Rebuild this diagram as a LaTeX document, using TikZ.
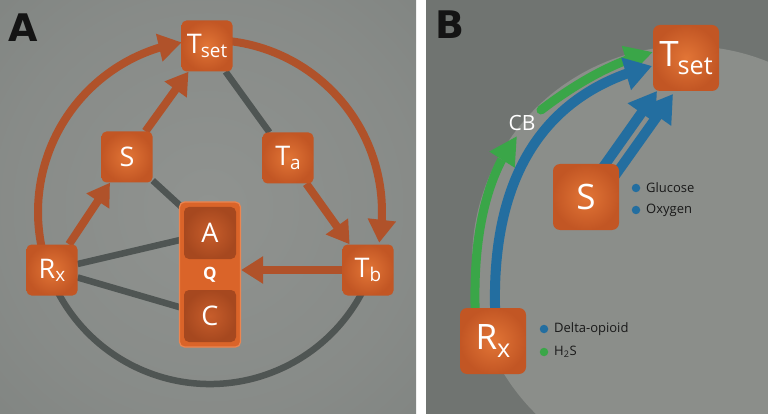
\documentclass[tikz,border=0pt]{standalone}
\usepackage{fontspec}
\setmainfont{Open Sans}
\newfontfamily\labfont{DejaVu Sans}
\usetikzlibrary{arrows.meta,bending}
\pgfdeclarelayer{bgl}
\pgfdeclarelayer{conn}
\pgfsetlayers{bgl,conn,main}
\definecolor{orA}{HTML}{B0522A}
\definecolor{lineG}{HTML}{4F5553}
\definecolor{boxC}{HTML}{C25624}
\definecolor{boxI}{HTML}{E27536}
\definecolor{inI}{HTML}{C75D2B}
\definecolor{inO}{HTML}{A6481F}
\definecolor{qF}{HTML}{DA6429}
\definecolor{qD}{HTML}{EC8550}
\definecolor{bluB}{HTML}{236EA0}
\definecolor{grnB}{HTML}{3AA648}
\definecolor{bgDark}{HTML}{6E7370}
\definecolor{bgLight}{HTML}{909390}
\definecolor{bgBd}{HTML}{707471}
\definecolor{bgBl}{HTML}{8B8E8A}
\colorlet{bgMid}{bgLight!75!bgDark}
\pgfdeclareradialshading{panA}{\pgfpoint{0bp}{0bp}}{color(0bp)=(bgLight); color(25bp)=(bgMid); color(72bp)=(bgDark)}
\newcommand\sbx[1]{\raisebox{-0.12em}{\scalebox{0.7}{#1}}}
\newcommand\sbxB[1]{\raisebox{-0.22em}{\scalebox{0.72}{#1}}}
\tikzset{
  boxA/.style={rounded corners=5pt, minimum size=51pt, inner sep=0pt, text=white,
    inner color=boxI, outer color=boxC, font=\fontsize{27}{27}\selectfont},
  boxB/.style={boxA, minimum size=66pt, rounded corners=7pt, font=\fontsize{35}{35}\selectfont},
  inbox/.style={rounded corners=5pt, minimum size=52pt, inner sep=0pt, text=white,
    inner color=inI, outer color=inO, font=\fontsize{27}{27}\selectfont},
  qbox/.style={rounded corners=5pt, minimum width=61pt, minimum height=145pt, inner sep=0pt,
    fill=qF, draw=qD, line width=1.2pt},
  oarr/.style={orA, line width=8pt, -{Triangle[length=22pt,width=26pt]}},
  oarc/.style={orA, line width=8pt, -{Triangle[length=23pt,width=27pt]}},
  gline/.style={lineG, line width=6.5pt},
  barr/.style={bluB, line width=10pt, -{Triangle[length=27pt,width=32pt]}},
  garr/.style={grnB, line width=9pt, -{Triangle[length=28pt,width=28pt]}},
  dotb/.style={circle, fill=bluB, minimum size=8.5pt, inner sep=0pt},
  dotg/.style={circle, fill=grnB, minimum size=8.5pt, inner sep=0pt},
  leg/.style={anchor=west, inner sep=0pt, text=black!90, font=\fontsize{13}{13}\selectfont},
  plabel/.style={inner sep=0pt, text=black!92, font=\labfont\bfseries\fontsize{38}{38}\selectfont}
}
\begin{document}
\begin{tikzpicture}[x=1pt,y=-1pt]
\useasboundingbox (0,0) rectangle (768,414);
\begin{pgfonlayer}{bgl}
  \fill[white] (0,0) rectangle (768,414);
  \shade[shading=panA] (0,0) rectangle (416,414);
  \begin{scope}
    \clip (426,0) rectangle (768,414);
    \fill[bgBd] (426,0) rectangle (768,414);
    \fill[bgBl] (687,261) circle[radius=215];
  \end{scope}
\end{pgfonlayer}

% ---------- Panel A ----------
\node[plabel] (labA) at (23,28) {A};
\coordinate (O) at (210,212);
\node[boxA] (Tset) at (207,46) {T\kern-0.03em\sbx{set}};
\node[boxA] (S) at (127,157) {S};
\node[boxA] (Ta) at (288,158) {T\sbx{a}};
\node[boxA] (Rx) at (52,270) {R\sbx{x}};
\node[boxA] (Tb) at (368,270) {T\sbx{b}};
\node[qbox] (Q) at (210,274.5) {};
\node[inbox] (A) at (210,233) {A};
\node[inbox] (C) at (210,316) {C};
\node[inner sep=0pt, text=white, font=\fontsize{17}{17}\selectfont\bfseries] (Qt) at (210,275) {Q};

\begin{pgfonlayer}{conn}
  \draw[gline] (Tset) -- (Ta);
  \draw[gline] (S) -- (A);
  \draw[gline] (Rx) -- (A);
  \draw[gline] (Rx) -- (C);
  \draw[gline] ([shift={(20:172)}]O) arc[start angle=20, end angle=160, radius=172];
  \draw[oarc] ([shift={(160:172)}]O) arc[start angle=160, end angle=260.5, radius=172];
  \draw[oarc] ([shift={(275:172)}]O) arc[start angle=275, end angle=370.3, radius=172];
  \draw[oarr] (Rx) -- (S);
  \draw[oarr] (S) -- (Tset);
  \draw[oarr] (Ta) -- (Tb);
  \draw[oarr] (Tb.west) -- (Q.east |- Tb.west);
\end{pgfonlayer}

% ---------- Panel B ----------
\node[plabel] (labB) at (450,25) {B};
\node[boxB] (Tset2) at (686,58) {T\kern-0.03em\sbxB{set}};
\node[boxB] (S2) at (586,197) {S};
\node[boxB] (Rx2) at (493,341) {R\sbxB{x}};
\node[inner sep=0pt, text=white, font=\fontsize{21}{21}\selectfont] (CB) at (522,123) {CB};

\node[dotb] (d1) at (636,188) {};
\node[leg] (t1) at (646,188) {Glucose};
\node[dotb] (d2) at (636,210) {};
\node[leg] (t2) at (646,210) {Oxygen};
\node[dotb] (d3) at (544,329) {};
\node[leg] (t3) at (554,329) {Delta-opioid};
\node[dotg] (d4) at (544,352) {};
\node[leg] (t4) at (554,352) {H\textsubscript{2}S};

\coordinate (bs) at (496,330);
\coordinate (bt) at (652,66);
\coordinate (gs) at (476,330);
\coordinate (gm1) at (517,136);
\coordinate (gm2) at (541,110);
\coordinate (gt) at (653,52);
\coordinate (s1s) at (594,180);
\coordinate (s1t) at (657,91);
\coordinate (s2s) at (609,184);
\coordinate (s2t) at (673,94);
\begin{pgfonlayer}{conn}
  \draw[garr] (gs) .. controls (470,230) and (490,170) .. (gm1);
  \draw[garr, line cap=round] (gm2) .. controls (570,88) and (610,62) .. (gt);
  \draw[barr] (bs) .. controls (486,175) and (546,92) .. (bt);
  \draw[barr] (s1s) -- (s1t);
  \draw[barr] (s2s) -- (s2t);
\end{pgfonlayer}
\end{tikzpicture}
\end{document}
